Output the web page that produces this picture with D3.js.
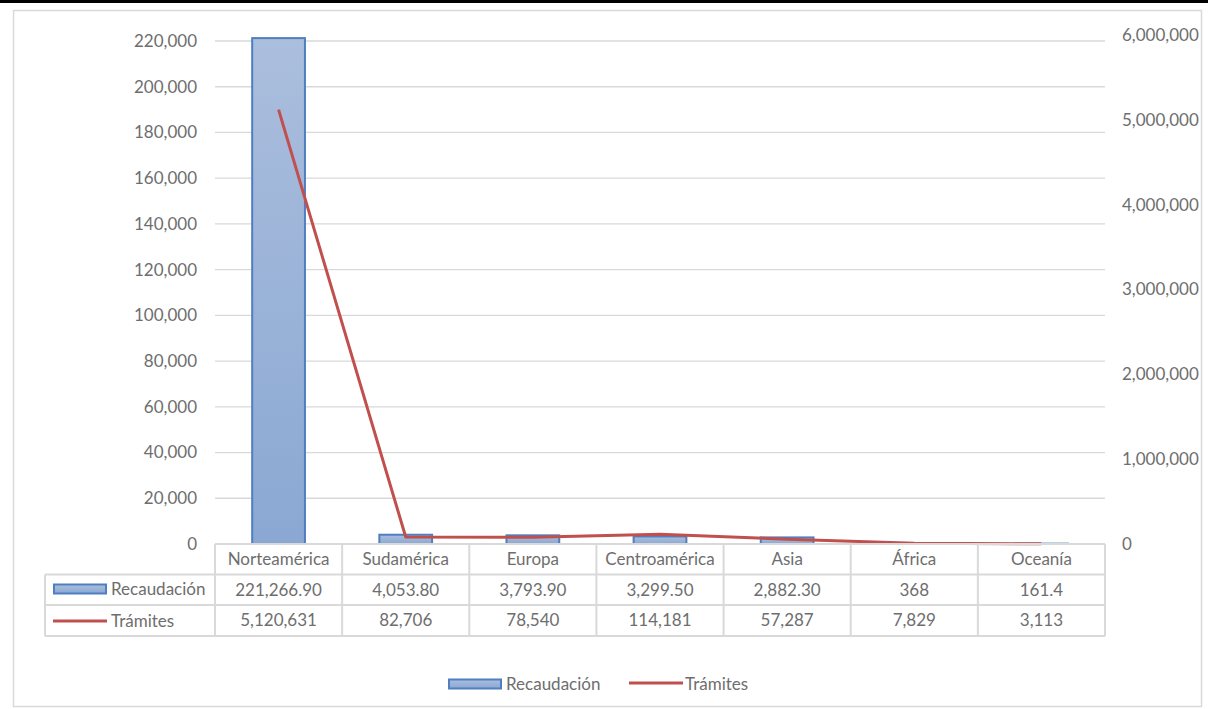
<!DOCTYPE html>
<meta charset="utf-8">
<style>
	body { margin: 0; background: #fff; font-family: Lato, "Open Sans", sans-serif; }
	text { fill: #6e6e6e; font-size: 17px; }
	.grid line { stroke: #d9d9d9; stroke-width: 1.3; }
	.tbl line { stroke: #d9d9d9; stroke-width: 2; }
</style>
<body>
<svg id="chart" width="1208" height="709">
	<defs>
		<linearGradient id="barfill" x1="0" y1="0" x2="0" y2="1">
			<stop offset="0" stop-color="#abbedd"></stop>
			<stop offset="1" stop-color="#8aa8d3"></stop>
		</linearGradient>
	</defs>
</svg>
<script src="https://d3js.org/d3.v7.min.js"></script>
<script>
	var categories = ["Norteamérica", "Sudamérica", "Europa", "Centroamérica", "Asia", "África", "Oceanía"];
	var recaudacion = [221266.90, 4053.80, 3793.90, 3299.50, 2882.30, 368, 161.4];
	var recaudacionLabels = ["221,266.90", "4,053.80", "3,793.90", "3,299.50", "2,882.30", "368", "161.4"];
	var tramites = [5120631, 82706, 78540, 114181, 57287, 7829, 3113];
	var leftTicks = [0, 20000, 40000, 60000, 80000, 100000, 120000, 140000, 160000, 180000, 200000, 220000];
	var rightTicks = [0, 1000000, 2000000, 3000000, 4000000, 5000000, 6000000];

	var svg = d3.select("#chart");
	var fmt = d3.format(",");

	var barColor = "#4f7fc0", lineColor = "#c0504d";

	// frame
	svg.append("rect").attr("x", 0).attr("y", 0).attr("width", 1208).attr("height", 3).attr("fill", "#000");
	svg.append("rect").attr("x", 13.5).attr("y", 10.5).attr("width", 1188).attr("height", 696)
		.attr("fill", "none").attr("stroke", "#d9d9d9").attr("stroke-width", 1.5);

	var x = d3.scaleBand().domain(categories).range([215, 1105]).padding(0);
	var y = d3.scaleLinear().domain([0, 220000]).range([544, 41]);
	var y2 = d3.scaleLinear().domain([0, 6000000]).range([544, 35]);

	// gridlines
	svg.append("g").attr("class", "grid")
		.selectAll("line").data(leftTicks.slice(1)).enter().append("line")
		.attr("x1", 215).attr("x2", 1105)
		.attr("y1", function(d) { return y(d); }).attr("y2", function(d) { return y(d); });

	// left axis
	svg.append("g").selectAll("text").data(leftTicks).enter().append("text")
		.attr("x", 197).attr("y", function(d) { return y(d); })
		.attr("dy", "0.35em").attr("text-anchor", "end")
		.text(function(d) { return fmt(d); });

	// right axis
	svg.append("g").selectAll("text").data(rightTicks).enter().append("text")
		.attr("x", 1122).attr("y", function(d) { return y2(d); })
		.attr("dy", "0.35em").attr("text-anchor", "start")
		.text(function(d) { return fmt(d); });

	// bars
	var bw = x.bandwidth() * 0.415;
	svg.append("g").selectAll("rect").data(recaudacion).enter().append("rect")
		.attr("x", function(d, i) { return x(categories[i]) + (x.bandwidth() - bw) / 2; })
		.attr("y", function(d) { return y(d); })
		.attr("width", bw)
		.attr("height", function(d) { return 544 - y(d); })
		.attr("fill", "url(#barfill)")
		.attr("stroke", barColor).attr("stroke-width", 2);

	// line
	var line = d3.line()
		.x(function(d, i) { return x(categories[i]) + x.bandwidth() / 2; })
		.y(function(d) { return y2(d); });
	svg.append("path").datum(tramites)
		.attr("d", line)
		.attr("fill", "none").attr("stroke", lineColor).attr("stroke-width", 3)
		.attr("stroke-linejoin", "round");

	// data table
	var rowTop = [544, 574.5, 605, 636];
	var tbl = svg.append("g").attr("class", "tbl");
	tbl.append("line").attr("x1", 215).attr("x2", 1105).attr("y1", rowTop[0]).attr("y2", rowTop[0]);
	[1, 2, 3].forEach(function(r) {
		tbl.append("line").attr("x1", 45).attr("x2", 1105).attr("y1", rowTop[r]).attr("y2", rowTop[r]);
	});
	tbl.append("line").attr("x1", 45).attr("x2", 45).attr("y1", rowTop[1]).attr("y2", rowTop[3]);
	tbl.selectAll(".vcol").data(categories).enter().append("line")
		.attr("x1", function(d) { return x(d); }).attr("x2", function(d) { return x(d); })
		.attr("y1", rowTop[0]).attr("y2", rowTop[3]);
	tbl.append("line").attr("x1", 1105).attr("x2", 1105).attr("y1", rowTop[0]).attr("y2", rowTop[3]);

	var rows = [categories, recaudacionLabels, tramites.map(fmt)];
	rows.forEach(function(vals, r) {
		svg.append("g").selectAll("text").data(vals).enter().append("text")
			.attr("x", function(d, i) { return x(categories[i]) + x.bandwidth() / 2; })
			.attr("y", (rowTop[r] + rowTop[r + 1]) / 2)
			.attr("dy", "0.35em").attr("text-anchor", "middle")
			.text(function(d) { return d; });
	});

	// series keys in table
	function barKey(g, x0, yc) {
		g.append("rect").attr("x", x0).attr("y", yc - 4.5).attr("width", 52).attr("height", 9)
			.attr("fill", "url(#barfill)").attr("stroke", barColor).attr("stroke-width", 2);
	}
	function lineKey(g, x0, yc) {
		g.append("line").attr("x1", x0).attr("x2", x0 + 54).attr("y1", yc).attr("y2", yc)
			.attr("stroke", lineColor).attr("stroke-width", 3);
	}
	var k = svg.append("g");
	barKey(k, 54, 589);
	k.append("text").attr("x", 111).attr("y", 589).attr("dy", "0.35em").text("Recaudación");
	lineKey(k, 53, 621);
	k.append("text").attr("x", 111).attr("y", 621).attr("dy", "0.35em").text("Trámites");

	// legend
	var lg = svg.append("g");
	barKey(lg, 449, 684);
	lg.append("text").attr("x", 506).attr("y", 684).attr("dy", "0.35em").text("Recaudación");
	lineKey(lg, 629, 683);
	lg.append("text").attr("x", 685).attr("y", 684).attr("dy", "0.35em").text("Trámites");
</script>
</body>
